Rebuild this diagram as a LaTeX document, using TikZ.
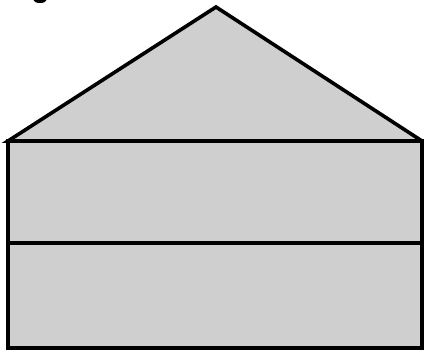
\documentclass[tikz,border=0pt]{standalone}
\definecolor{wallgray}{RGB}{207,207,207}
\tikzset{
  outline/.style={draw=black, line width=3.6pt, line join=miter, fill=wallgray},
  divider/.style={draw=black, line width=3.6pt}
}
\begin{document}
\begin{tikzpicture}[x=1pt,y=-1pt]
\useasboundingbox (0,0) rectangle (424,350);
\clip (0,0) rectangle (424,350);
\coordinate (apex) at (216,7);
\coordinate (tl) at (8,141);
\coordinate (tr) at (422,141);
\coordinate (ml) at (8,243);
\coordinate (mr) at (422,243);
\coordinate (br) at (422,348);
% roof
\path[outline] (tl) -- (apex) -- (tr) -- cycle;
% walls
\path[outline] (tl) rectangle (br);
\draw[divider] (ml) -- (mr);
% cropped text fragment at top
\fill[black] (40,0) ellipse [x radius=6.5, y radius=3];
\end{tikzpicture}
\end{document}
